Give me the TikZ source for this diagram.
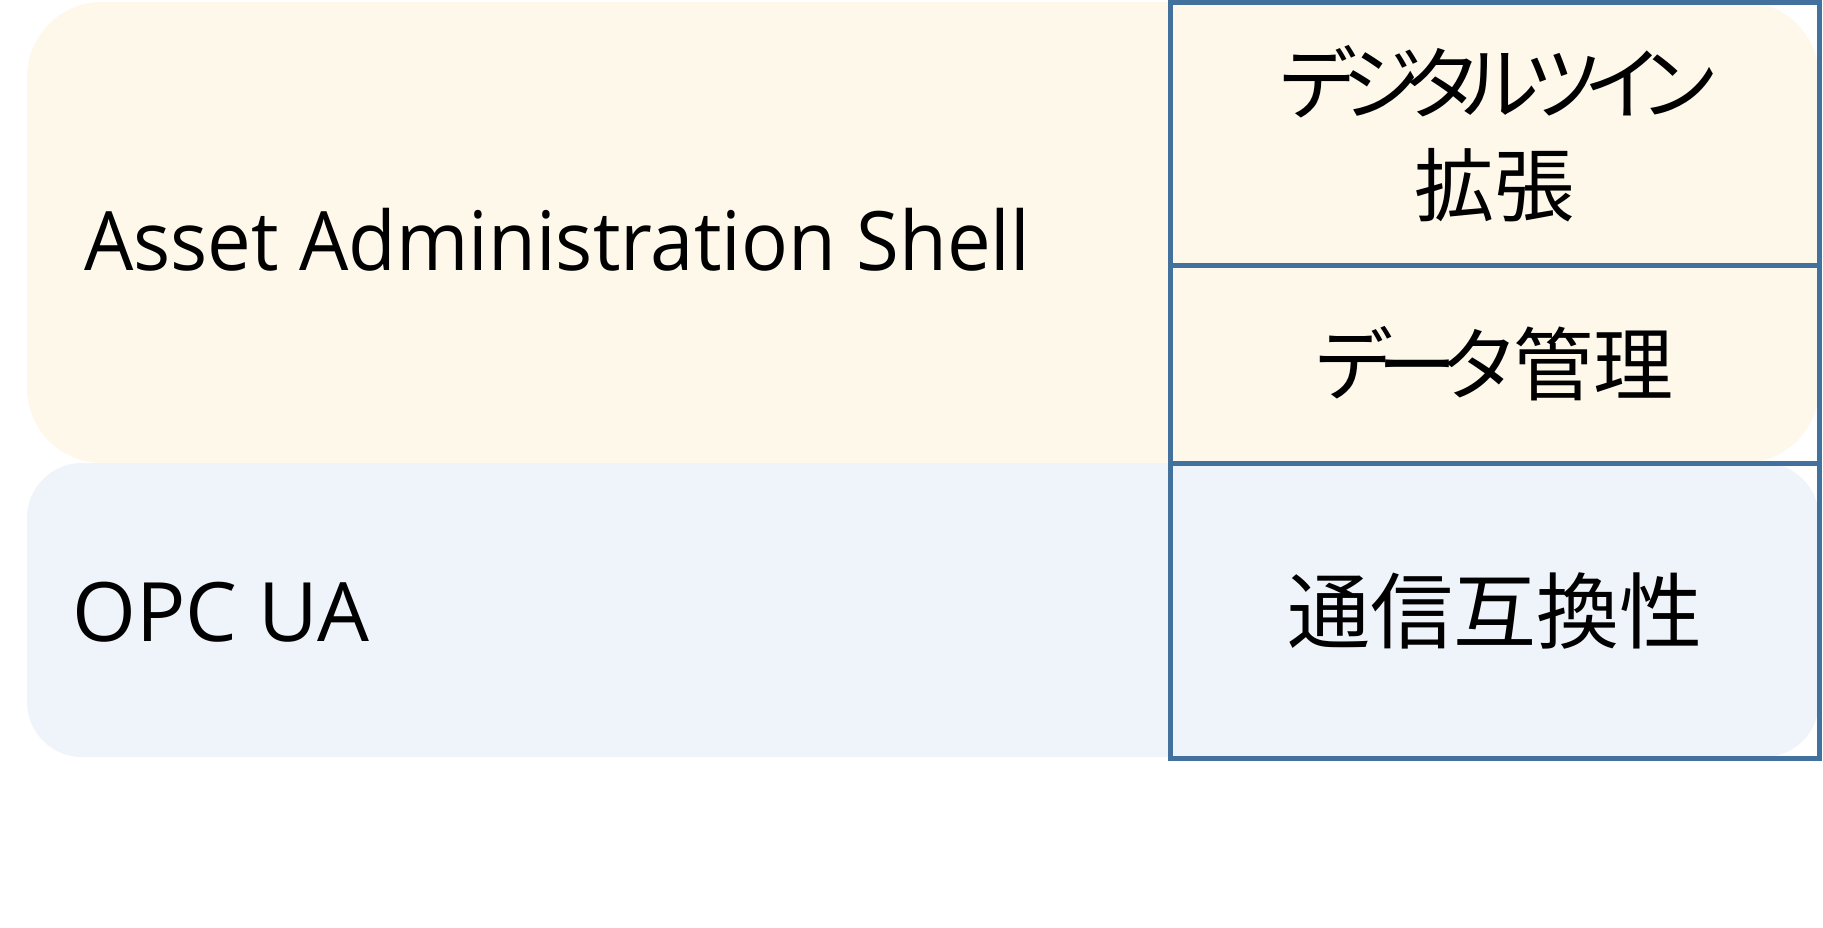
\documentclass[tikz,border=0pt]{standalone}
\usepackage{fontspec}
\setmainfont{Open Sans}
\newfontfamily\narrowsans[FakeStretch=0.95]{Open Sans}
\newfontfamily\jpfont[RawFeature=+palt]{Noto Sans CJK JP}
\newfontfamily\jpkana[RawFeature=+palt, LetterSpace=-16]{Noto Sans CJK JP}
\definecolor{aasfill}{HTML}{FEF8EB}
\definecolor{opcfill}{HTML}{EFF3FA}
\definecolor{cellline}{HTML}{41719C}
\tikzset{
  bandlabel/.style={anchor=base west, inner sep=0pt, font=\fontsize{82}{98}\selectfont},
  cell/.style={draw=cellline, line width=5pt, inner sep=0pt, outer sep=0pt, align=center,
    font=\jpfont\fontsize{80}{102}\selectfont, minimum width=649pt},
}
\begin{document}
\begin{tikzpicture}[x=1pt,y=-1pt]
\useasboundingbox (0,0) rectangle (1823,927);
\fill[aasfill, rounded corners=75pt] (27,2) rectangle (1819,463);
\fill[opcfill, rounded corners=55pt] (27,463) rectangle (1819,757);
\node[bandlabel] (aas) at (84,270) {\narrowsans Asset Administration Shell};
\node[bandlabel] (opc) at (72,641) {OPC UA};
\node[cell, minimum height=262.5pt] (twin) at (1494.5,133.75) {{\jpkana デジタルツイン}\kern-6pt\\拡張};
\node[cell, minimum height=198pt] (data) at (1494.5,364) {{\jpkana データ}管理};
\node[cell, minimum height=295pt, font=\jpfont\fontsize{83}{102}\selectfont] (comm) at (1494.5,610.5) {通信互換性};
\end{tikzpicture}
\end{document}
